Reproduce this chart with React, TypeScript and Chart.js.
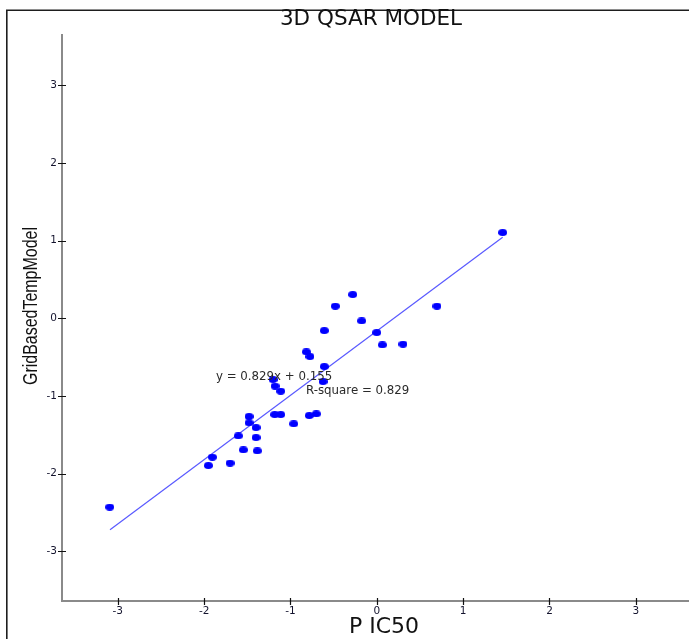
import React, { useEffect, useRef } from "react";
import { Chart, registerables } from "chart.js";

Chart.register(...registerables);

// Observed P IC50 (x) vs GridBasedTempModel prediction (y)
const pIC50: number[] = [
  -3.093, 1.458, 0.697, -0.279, -0.481, -0.175, -0.608, -0.001, 0.064, 0.303,
  -0.816, -0.774, -0.608, -0.623, -1.202, -1.179, -1.113, -1.182, -1.113, -0.782,
  -0.701, -0.962, -1.48, -1.48, -1.399, -1.399, -1.604, -1.546, -1.384, -1.905,
  -1.951, -1.7,
];
const predicted: number[] = [
  -2.432, 1.102, 0.154, 0.304, 0.154, -0.035, -0.16, -0.185, -0.344, -0.335,
  -0.434, -0.494, -0.623, -0.816, -0.79, -0.875, -0.94, -1.241, -1.241, -1.254,
  -1.232, -1.36, -1.266, -1.347, -1.408, -1.537, -1.515, -1.695, -1.708, -1.789,
  -1.897, -1.866,
];
// Fitted line as drawn (end points)
const fitX: number[] = [-3.09, 1.458];
const fitY: number[] = [-2.723, 1.042];

const tickValues: number[] = [-3, -2, -1, 0, 1, 2, 3];
const chartTitle = "3D QSAR MODEL";
const xTitle = "P IC50";
const yTitle = "GridBasedTempModel";
const equationText = "y = 0.829x + 0.155";
const rSquareText = "R-square = 0.829";

function makeDot(): HTMLCanvasElement {
  const c = document.createElement("canvas");
  c.width = 9;
  c.height = 7;
  const g = c.getContext("2d")!;
  g.fillStyle = "#0000ff";
  g.beginPath();
  g.ellipse(4.5, 3.5, 4.5, 3.4, 0, 0, Math.PI * 2);
  g.fill();
  return c;
}

const decorPlugin = {
  id: "decor",
  beforeDraw(chart: any) {
    const ctx = chart.ctx;
    ctx.save();
    ctx.fillStyle = "#ffffff";
    ctx.fillRect(0, 0, chart.width, chart.height);
    ctx.restore();
  },
  afterDraw(chart: any) {
    const ctx: CanvasRenderingContext2D = chart.ctx;
    const xs = chart.scales.x;
    const ys = chart.scales.y;
    const area = chart.chartArea;
    ctx.save();
    // outer frame (left + top)
    ctx.fillStyle = "#1e1e1e";
    ctx.fillRect(6, 10, 1.6, chart.height - 10);
    ctx.fillRect(6, 9.5, chart.width - 6, 1.5);

    // tick marks crossing the axes
    ctx.strokeStyle = "#111111";
    ctx.lineWidth = 1.2;
    ctx.beginPath();
    tickValues.forEach((v) => {
      const px = Math.round(xs.getPixelForValue(v)) + 0.5;
      ctx.moveTo(px, area.bottom - 3);
      ctx.lineTo(px, area.bottom + 4);
      const py = Math.round(ys.getPixelForValue(v)) + 0.5;
      ctx.moveTo(area.left - 4, py);
      ctx.lineTo(area.left + 4, py);
    });
    ctx.stroke();

    // annotations
    ctx.fillStyle = "#2a2a2a";
    ctx.font = "11.8px 'DejaVu Sans'";
    ctx.textAlign = "left";
    ctx.textBaseline = "middle";
    ctx.fillText(equationText, xs.getPixelForValue(-1.863), ys.getPixelForValue(-0.755));
    ctx.fillText(rSquareText, xs.getPixelForValue(-0.82), ys.getPixelForValue(-0.935));

    // titles
    ctx.fillStyle = "#111111";
    ctx.textAlign = "center";
    ctx.font = "21.5px 'DejaVu Sans'";
    ctx.fillText(chartTitle, 371, 19);
    ctx.font = "22px 'DejaVu Sans'";
    ctx.fillText(xTitle, 384, 627);
    ctx.save();
    ctx.translate(31, 306);
    ctx.rotate(-Math.PI / 2);
    ctx.font = "20px 'Liberation Sans Narrow', 'Liberation Sans', sans-serif";
    const w = ctx.measureText(yTitle).width;
    const target = 158;
    ctx.scale(target / w, 1);
    ctx.fillText(yTitle, 0, 0);
    ctx.restore();
    ctx.restore();
  },
};

export default function App() {
  const ref = useRef<HTMLCanvasElement | null>(null);
  useEffect(() => {
    if (!ref.current) return;
    const dot = makeDot();
    const points = pIC50.map((x, i) => ({ x, y: predicted[i] }));
    const fit = fitX.map((x, i) => ({ x, y: fitY[i] }));
    const tickFont = { family: "'DejaVu Sans'", size: 10.5 };
    const chart = new Chart(ref.current, {
      type: "scatter",
      data: {
        datasets: [
          {
            label: "data",
            data: points,
            pointStyle: dot as any,
            pointRadius: 4,
            backgroundColor: "#0000ff",
            borderColor: "#0000ff",
            order: 0,
          },
          {
            label: "fit",
            data: fit,
            showLine: true,
            pointRadius: 0,
            borderColor: "#5a5aff",
            borderWidth: 1.2,
            order: 1,
          },
        ],
      },
      options: {
        animation: false,
        responsive: false,
        devicePixelRatio: 1,
        layout: { autoPadding: false, padding: { top: 35, left: 0, right: 0, bottom: 0 } },
        plugins: {
          legend: { display: false },
          tooltip: { enabled: false },
          title: { display: false },
        },
        scales: {
          x: {
            type: "linear",
            min: -3.646,
            max: 3.616,
            afterFit: (s: any) => {
              s.height = 38;
            },
            border: { display: true, color: "#8a8a8a", width: 2 },
            grid: { display: true, drawOnChartArea: false, drawTicks: false },
            ticks: {
              stepSize: 1,
              includeBounds: false,
              padding: 4,
              font: tickFont,
              color: "#14142e",
            },
          },
          y: {
            type: "linear",
            min: -3.64,
            max: 3.645,
            afterFit: (s: any) => {
              s.width = 62;
            },
            border: { display: true, color: "#8a8a8a", width: 2 },
            grid: { display: true, drawOnChartArea: false, drawTicks: false },
            ticks: {
              stepSize: 1,
              includeBounds: false,
              padding: 5,
              font: tickFont,
              color: "#14142e",
            },
          },
        },
      },
      plugins: [decorPlugin],
    });
    return () => chart.destroy();
  }, []);
  return (
    <div style={{ position: "absolute", left: 0, top: 0, width: 689, height: 639 }}>
      <canvas ref={ref} width={689} height={639} style={{ display: "block" }} />
    </div>
  );
}
